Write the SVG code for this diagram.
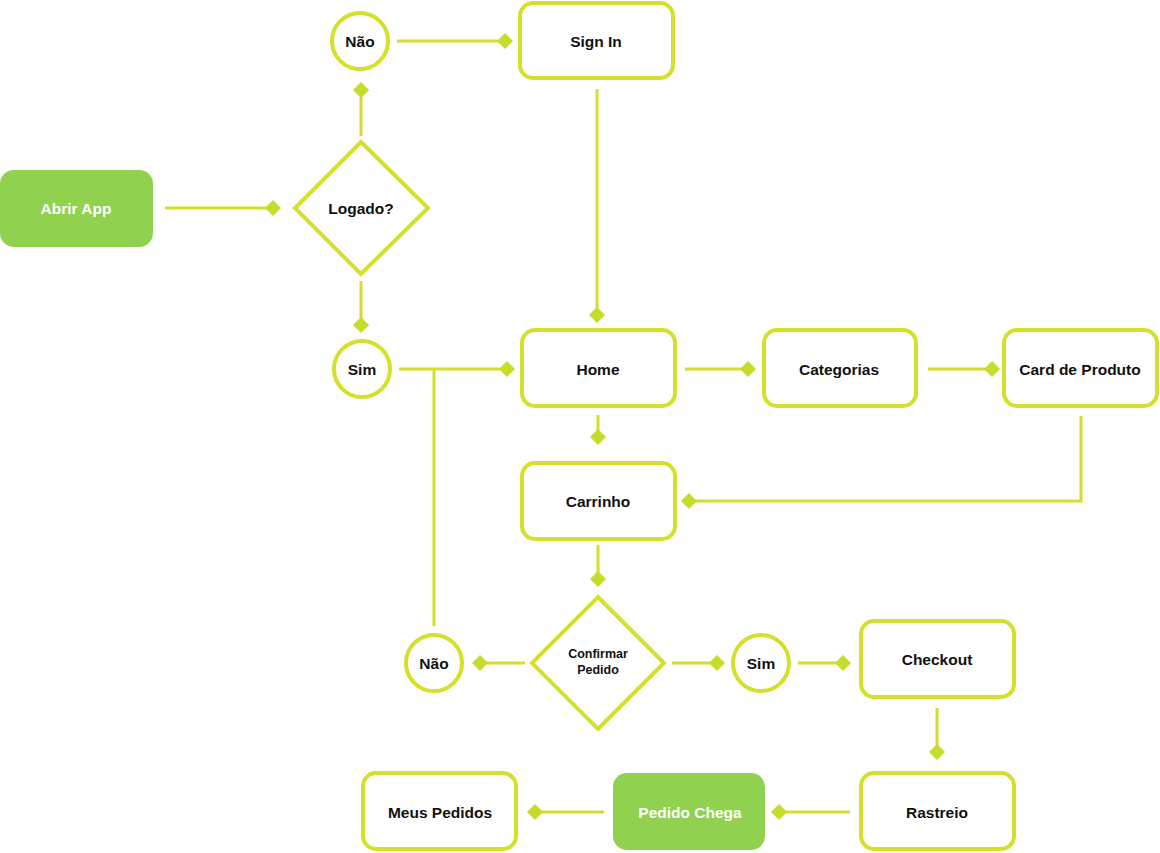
<svg xmlns="http://www.w3.org/2000/svg" width="1160" height="853" viewBox="0 0 1160 853">
<defs>
<marker id="dm" markerUnits="userSpaceOnUse" viewBox="-9 -9 18 18" markerWidth="18" markerHeight="18" refX="0" refY="0" orient="auto">
<path d="M-8,0 L0,-8 L8,0 L0,8 Z" fill="#C6DC2A"/>
</marker>
<style>
.box{fill:#fff;stroke:#D4E02A;stroke-width:4}
.green{fill:#91D150}
.c{fill:#fff;stroke:#D4E02A;stroke-width:4}
.t{font-family:"Liberation Sans",Arial,sans-serif;font-weight:bold;font-size:15.5px;fill:#111;text-anchor:middle;dominant-baseline:central}
.tw{fill:#fff}
.s{font-size:12.5px}
.ln{fill:none;stroke:#D4DF2B;stroke-width:3}
.a{marker-end:url(#dm)}
</style>
</defs>
<rect width="1160" height="853" fill="#fff"/>
<g id="connectors">
<line class="ln a" x1="165" y1="208" x2="273" y2="208"/>
<line class="ln a" x1="361" y1="136" x2="361" y2="90"/>
<line class="ln a" x1="397" y1="41" x2="505" y2="41"/>
<line class="ln a" x1="361" y1="281" x2="361" y2="325"/>
<line class="ln a" x1="597" y1="89" x2="597" y2="315"/>
<line class="ln a" x1="399" y1="369" x2="507" y2="369"/>
<line class="ln" x1="434" y1="369" x2="434" y2="626"/>
<line class="ln a" x1="685" y1="369" x2="748" y2="369"/>
<line class="ln a" x1="928" y1="369" x2="992" y2="369"/>
<polyline class="ln a" points="1081,416 1081,501 689,501"/>
<line class="ln a" x1="598" y1="415" x2="598" y2="437"/>
<line class="ln a" x1="598" y1="545" x2="598" y2="579"/>
<line class="ln a" x1="525" y1="663" x2="480" y2="663"/>
<line class="ln a" x1="672" y1="663" x2="717" y2="663"/>
<line class="ln a" x1="798" y1="663" x2="843" y2="663"/>
<line class="ln a" x1="937" y1="708" x2="937" y2="752"/>
<line class="ln a" x1="850" y1="812" x2="779" y2="812"/>
<line class="ln a" x1="604" y1="812" x2="535" y2="812"/>
</g>
<g id="abrir-app"><rect class="green" x="0" y="170" width="153" height="77" rx="14"/><text class="t tw" x="76" y="208">Abrir App</text></g>
<g id="logado"><polygon class="c" points="361,142 428,208 361,274 295,208"/><text class="t" x="361" y="208">Logado?</text></g>
<g id="nao1"><circle class="c" cx="360" cy="41" r="28"/><text class="t" x="360" y="41">Não</text></g>
<g id="sign-in"><rect class="box" x="520" y="3" width="153" height="75" rx="13"/><text class="t" x="596" y="41">Sign In</text></g>
<g id="sim1"><circle class="c" cx="362" cy="369" r="28"/><text class="t" x="362" y="369">Sim</text></g>
<g id="home"><rect class="box" x="522" y="330" width="153" height="76" rx="13"/><text class="t" x="598" y="369">Home</text></g>
<g id="categorias"><rect class="box" x="764" y="330" width="152" height="76" rx="13"/><text class="t" x="839" y="369">Categorias</text></g>
<g id="card-produto"><rect class="box" x="1004" y="330" width="153" height="76" rx="13"/><text class="t" x="1080" y="369">Card de Produto</text></g>
<g id="carrinho"><rect class="box" x="522" y="463" width="153" height="76" rx="13"/><text class="t" x="598" y="501">Carrinho</text></g>
<g id="confirmar"><polygon class="c" points="598,597 664,663 598,729 532,663"/><text class="t s" x="598" y="654">Confirmar</text><text class="t s" x="598" y="670">Pedido</text></g>
<g id="nao2"><circle class="c" cx="434" cy="663" r="28"/><text class="t" x="434" y="663">Não</text></g>
<g id="sim2"><circle class="c" cx="761" cy="663" r="28"/><text class="t" x="761" y="663">Sim</text></g>
<g id="checkout"><rect class="box" x="861" y="621" width="153" height="76" rx="13"/><text class="t" x="937" y="659">Checkout</text></g>
<g id="rastreio"><rect class="box" x="861" y="773" width="153" height="76" rx="13"/><text class="t" x="937" y="812">Rastreio</text></g>
<g id="pedido-chega"><rect class="green" x="613" y="773" width="152" height="77" rx="14"/><text class="t tw" x="690" y="812">Pedido Chega</text></g>
<g id="meus-pedidos"><rect class="box" x="363" y="773" width="153" height="76" rx="13"/><text class="t" x="440" y="812">Meus Pedidos</text></g>
</svg>
